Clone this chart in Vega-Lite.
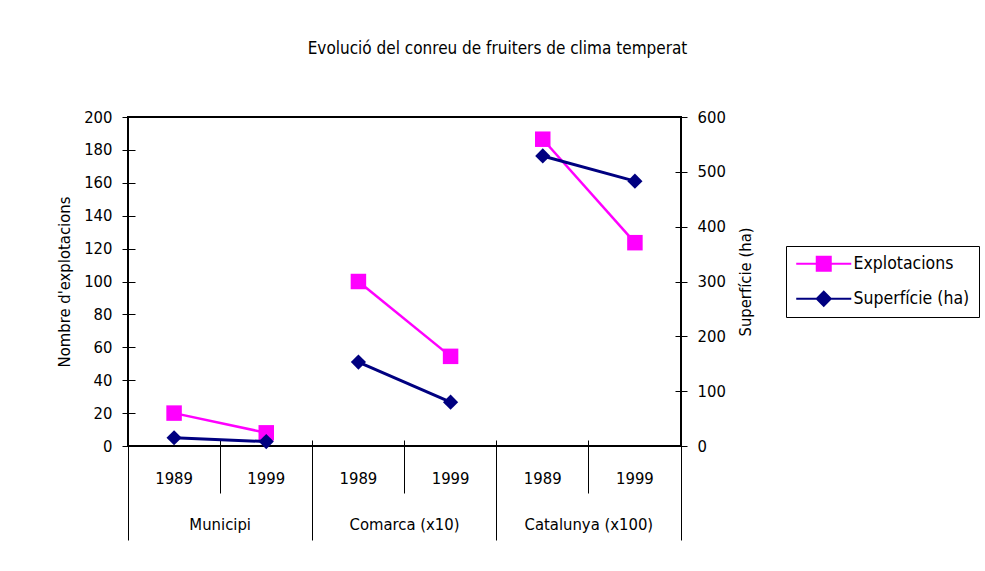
{
  "$schema": "https://vega.github.io/schema/vega-lite/v6.json",
  "width": 553,
  "height": 329,
  "autosize": {"type": "none"},
  "padding": {"left": 128, "top": 117, "right": 304, "bottom": 125},
  "background": "white",
  "title": {
    "text": "Evolució del conreu de fruiters de clima temperat",
    "anchor": "middle",
    "frame": "group",
    "dx": 93,
    "offset": 38,
    "baseline": "alphabetic"
  },
  "data": {
    "values": [
      {"grp": "Municipi", "yr": "1989", "cat": "Municipi|1989", "explot": 20, "sup": 15},
      {"grp": "Municipi", "yr": "1999", "cat": "Municipi|1999", "explot": 8, "sup": 8},
      {"grp": "Comarca (x10)", "yr": "1989", "cat": "Comarca (x10)|1989", "explot": 100, "sup": 153},
      {"grp": "Comarca (x10)", "yr": "1999", "cat": "Comarca (x10)|1999", "explot": 54.5, "sup": 80},
      {"grp": "Catalunya (x100)", "yr": "1989", "cat": "Catalunya (x100)|1989", "explot": 186.5, "sup": 529},
      {"grp": "Catalunya (x100)", "yr": "1999", "cat": "Catalunya (x100)|1999", "explot": 123.6, "sup": 483}
    ]
  },
  "layer": [
    {
      "mark": {"type": "line", "strokeWidth": 2.5},
      "encoding": {
        "x": {"field": "cat", "type": "ordinal", "sort": null,
              "scale": {"type": "band", "paddingInner": 0, "paddingOuter": 0},
              "axis": {"orient": "bottom", "ticks": false, "tickSize": 0, "domain": false,
                       "labelExpr": "split(datum.label, '|')[1]", "labelPadding": 32,
                       "labelBaseline": "middle", "labelAngle": 0, "title": null}},
        "y": {"field": "explot", "type": "quantitative", "scale": {"domain": [0, 200]},
              "axis": {"orient": "left", "values": [0, 20, 40, 60, 80, 100, 120, 140, 160, 180, 200],
                       "tickSize": 6, "labelPadding": 10, "domain": false,
                       "title": "Nombre d'explotacions", "titlePadding": 11}},
        "detail": {"field": "grp"},
        "color": {"datum": "Explotacions", "type": "nominal",
                  "scale": {"domain": ["Explotacions", "Superfície (ha)"], "range": ["#FF00FF", "#000080"]},
                  "legend": {
                    "orient": "none", "legendX": 658, "legendY": 129, "title": null,
                    "symbolSize": 256, "symbolOffset": 20, "labelOffset": 21,
                    "padding": 9, "rowPadding": 16,
                    "strokeColor": "black", "fillColor": "white",
                    "labelFontSize": 17.5, "labelColor": "black",
                    "encode": {
                      "symbols": {
                        "update": {
                          "shape": {"signal": "datum.value === 'Explotacions' ? 'M-3.44,-0.13H3.44V0.13H-3.44Z M-1,-1H1V1H-1Z' : 'M-3.44,-0.13H3.44V0.13H-3.44Z M0,-1.05L1.05,0L0,1.05L-1.05,0Z'"},
                          "fill": {"signal": "datum.value === 'Explotacions' ? '#FF00FF' : '#000080'"},
                          "stroke": {"value": "transparent"},
                          "strokeWidth": {"value": 0},
                          "opacity": {"value": 1},
                          "fillOpacity": {"value": 1}
                        }
                      }
                    }
                  }}
      }
    },
    {
      "mark": {"type": "point", "shape": "square", "filled": true, "size": 240, "opacity": 1, "strokeWidth": 0},
      "encoding": {
        "x": {"field": "cat", "type": "ordinal", "sort": null,
              "scale": {"type": "band", "paddingInner": 0, "paddingOuter": 0}, "axis": null},
        "y": {"field": "explot", "type": "quantitative", "scale": {"domain": [0, 200]},
              "axis": {"orient": "left", "values": [0, 20, 40, 60, 80, 100, 120, 140, 160, 180, 200],
                       "tickSize": -7, "labels": false, "domain": false, "title": null}},
        "color": {"datum": "Explotacions", "type": "nominal"}
      }
    },
    {
      "mark": {"type": "line", "strokeWidth": 3},
      "encoding": {
        "x": {"field": "cat", "type": "ordinal", "sort": null,
              "scale": {"type": "band", "paddingInner": 0, "paddingOuter": 0},
              "axis": {"orient": "bottom", "bandPosition": 1, "tickExtra": true, "tickSize": 47,
                       "labels": false, "domain": false, "title": null}},
        "y": {"field": "sup", "type": "quantitative", "scale": {"domain": [0, 600]},
              "axis": {"orient": "right", "values": [0, 100, 200, 300, 400, 500, 600],
                       "tickSize": 6, "labelPadding": 10, "domain": false,
                       "title": "Superfície (ha)", "titleAngle": 270, "titleBaseline": "top", "titlePadding": 12}},
        "detail": {"field": "grp"},
        "color": {"datum": "Superfície (ha)", "type": "nominal"}
      }
    },
    {
      "mark": {"type": "point", "shape": "diamond", "filled": true, "size": 230, "opacity": 1, "strokeWidth": 0},
      "encoding": {
        "x": {"field": "cat", "type": "ordinal", "sort": null,
              "scale": {"type": "band", "paddingInner": 0, "paddingOuter": 0},
              "axis": {"orient": "bottom", "bandPosition": 1, "tickExtra": true, "tickSize": -6,
                       "labels": false, "domain": false, "title": null}},
        "y": {"field": "sup", "type": "quantitative", "scale": {"domain": [0, 600]},
              "axis": {"orient": "right", "values": [0, 100, 200, 300, 400, 500, 600],
                       "tickSize": -6, "labels": false, "domain": false, "title": null}},
        "color": {"datum": "Superfície (ha)", "type": "nominal"}
      }
    },
    {
      "mark": {"type": "rule", "strokeOpacity": 0},
      "encoding": {
        "x": {"field": "grp", "type": "nominal", "sort": null,
              "scale": {"type": "band", "paddingInner": 0, "paddingOuter": 0},
              "axis": {"orient": "bottom", "bandPosition": 1, "tickExtra": true, "tickSize": 94,
                       "labels": false, "domain": false, "title": null}}
      }
    },
    {
      "mark": {"type": "rule", "strokeOpacity": 0},
      "encoding": {
        "x": {"field": "grp", "type": "nominal", "sort": null,
              "scale": {"type": "band", "paddingInner": 0, "paddingOuter": 0},
              "axis": {"orient": "bottom", "ticks": false, "tickSize": 0, "domain": false,
                       "labelPadding": 78, "labelBaseline": "middle", "labelAngle": 0, "title": null}}
      }
    }
  ],
  "resolve": {
    "scale": {"x": "independent", "y": "independent", "color": "shared"},
    "axis": {"x": "independent", "y": "independent"}
  },
  "config": {
    "font": "Liberation Sans Narrow, Arial Narrow, DejaVu Sans Condensed, sans-serif",
    "view": {"stroke": "black", "strokeWidth": 2},
    "axis": {
      "labelFont": "Liberation Sans Narrow, Arial Narrow, DejaVu Sans Condensed, sans-serif",
      "labelFontSize": 16.5, "labelColor": "black",
      "titleFont": "Liberation Sans Narrow, Arial Narrow, DejaVu Sans Condensed, sans-serif",
      "titleFontSize": 16.5, "titleFontWeight": "normal", "titleColor": "black",
      "tickColor": "black", "tickWidth": 1, "domainColor": "black",
      "grid": false, "labelOverlap": false, "labelBound": false, "labelFlush": false
    },
    "legend": {
      "labelFont": "Liberation Sans Narrow, Arial Narrow, DejaVu Sans Condensed, sans-serif",
      "strokeWidth": 1
    },
    "title": {
      "font": "Liberation Sans Narrow, Arial Narrow, DejaVu Sans Condensed, sans-serif",
      "fontSize": 17, "fontWeight": "normal", "color": "black"
    }
  }
}
